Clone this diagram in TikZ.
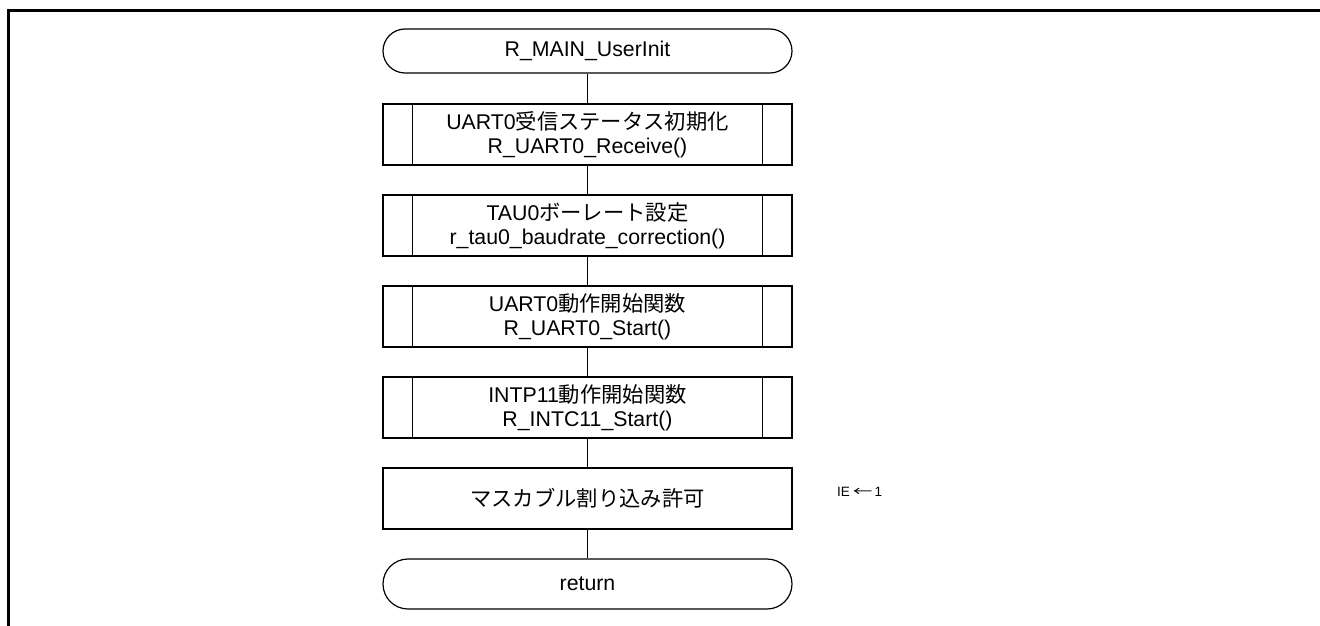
\documentclass[tikz,border=0pt]{standalone}
\usepackage{fontspec}
\setmainfont{Liberation Sans}
\newfontfamily\jpfont{Noto Sans CJK JP}
\newcommand{\jp}[1]{{\jpfont #1}}
\begin{document}
\begin{tikzpicture}[x=1pt,y=-1pt,
  base/.style={draw=black, line width=1.2pt, inner sep=0pt, align=center,
    minimum width=409pt, font=\fontsize{21.3}{24}\selectfont},
  term/.style={base, rounded corners=#1, minimum height=2*#1},
  proc/.style={base, minimum height=61pt},
  subproc/.style={proc, append after command={
    \pgfextra{\let\mynode\tikzlastnode}
    ([xshift=30pt]\mynode.north west) edge[line width=1.2pt] ([xshift=30pt]\mynode.south west)
    ([xshift=-30pt]\mynode.north east) edge[line width=1.2pt] ([xshift=-30pt]\mynode.south east)}},
  conn/.style={draw=black, line width=1.2pt}
]
\useasboundingbox (0,0) rectangle (1320,626);
\draw[line width=3pt] (8,628) -- (8,10.5) -- (1322,10.5);

\node[term=22pt] (start) at (587.5,51) {R\_MAIN\_UserInit};
\node[subproc] (s1) at (587.5,134.5) {UART0\jp{受信ステータス初期化}\\R\_UART0\_Receive()};
\node[subproc] (s2) at (587.5,225.5) {TAU0\jp{ボーレート設定}\\r\_tau0\_baudrate\_correction()};
\node[subproc] (s3) at (587.5,316.5) {UART0\jp{動作開始関数}\\R\_UART0\_Start()};
\node[subproc] (s4) at (587.5,407.5) {INTP11\jp{動作開始関数}\\R\_INTC11\_Start()};
\node[proc] (s5) at (587.5,498.5) {\jp{マスカブル割り込み許可}};
\node[term=25pt] (ret) at (587.5,584) {return};
\node[anchor=west, inner sep=0pt, font=\fontsize{13.5}{15}\selectfont] (ie) at (837,492)
  {IE\hspace{3pt}\scalebox{1.45}[1]{\jpfont ←}\hspace{2pt}1};

\draw[conn] (start) -- (s1);
\draw[conn] (s1) -- (s2);
\draw[conn] (s2) -- (s3);
\draw[conn] (s3) -- (s4);
\draw[conn] (s4) -- (s5);
\draw[conn] (s5) -- (ret);
\end{tikzpicture}
\end{document}
